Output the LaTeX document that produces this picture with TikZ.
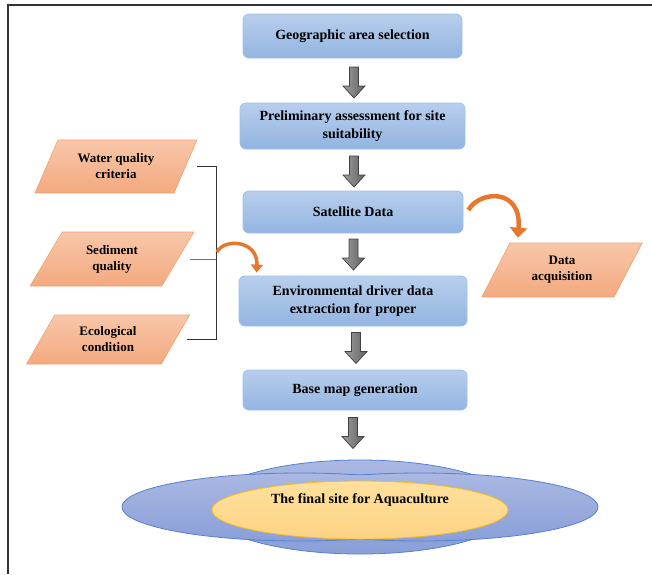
\documentclass[tikz,border=0pt]{standalone}
\usepackage{fontspec}
\setmainfont{Liberation Serif}
\usetikzlibrary{shapes.geometric,shapes.arrows,arrows.meta,calc}
\definecolor{boxtop}{HTML}{B8CEEC}
\definecolor{boxbot}{HTML}{93B5E1}
\definecolor{boxline}{HTML}{9CC0EA}
\definecolor{partop}{HTML}{F8C7A9}
\definecolor{parbot}{HTML}{F3A97F}
\definecolor{parline}{HTML}{F1A171}
\definecolor{orng}{HTML}{E8772E}
\definecolor{blobtop}{HTML}{AAB8E2}
\definecolor{blobbot}{HTML}{8A9FD9}
\definecolor{blobline}{HTML}{5680D2}
\definecolor{yeltop}{HTML}{FFE09C}
\definecolor{yelbot}{HTML}{FDD385}
\definecolor{yelline}{HTML}{F5BD1A}
\begin{document}
\begin{tikzpicture}[x=1pt,y=-1pt,
 stepbox/.style={draw=boxline, line width=0.8pt, rounded corners=6pt, top color=boxtop, bottom color=boxbot, font=\fontsize{14}{18}\selectfont\bfseries, align=center, inner sep=0pt},
 para/.style={trapezium, trapezium left angle=59, trapezium right angle=121, trapezium stretches=true, draw=parline, line width=0.6pt, top color=partop, bottom color=parbot, font=\fontsize{13}{16}\selectfont\bfseries, align=center, inner sep=0pt},
 blockarrowstyle/.style={draw=black!75, left color=black!38, right color=black!62, line width=0.7pt},
 downarr/.pic={\path[blockarrowstyle] (-4.5,-15.5) -- (4.5,-15.5) -- (4.5,3.5) -- (11,3.5) -- (0,15.5) -- (-11,3.5) -- (-4.5,3.5) -- cycle;},
 bracket/.style={draw=black!80, line width=0.7pt},
 curvarrow/.style={draw=orng, line width=4.5pt, -{Triangle[width=17pt,length=10pt]}},
 curvarrowsmall/.style={draw=orng, line width=3.5pt, -{Triangle[width=12pt,length=8pt]}},
]
\useasboundingbox (0,0) rectangle (652,574);
\draw[line width=2pt, draw=black!80] (7.5,574) -- (7.5,4.5) -- (652,4.5);

% main boxes
\node[stepbox, minimum width=219pt, minimum height=44pt] (b1) at (352.5,36) {Geographic area selection};
\node[stepbox, minimum width=225pt, minimum height=46pt] (b2) at (352.5,126) {Preliminary assessment for site\\suitability};
\node[stepbox, minimum width=220pt, minimum height=42pt] (b3) at (353,212) {Satellite Data};
\node[stepbox, minimum width=228pt, minimum height=50pt] (b4) at (353,301) {Environmental driver data\\extraction for proper};
\node[stepbox, minimum width=224pt, minimum height=40pt] (b5) at (355,390) {Base map generation};

% block arrows
\pic (a1) at (354,82.5) {downarr};
\pic (a2) at (354,171.5) {downarr};
\pic (a3) at (353.5,254.5) {downarr};
\pic (a4) at (356,348) {downarr};
\pic (a5) at (353,433) {downarr};

% parallelograms
\node[para, minimum width=162pt, minimum height=53pt] (p1) at (116,166.5) {Water quality\\criteria};
\node[para, minimum width=164pt, minimum height=54pt] (p2) at (112,259) {Sediment\\quality};
\node[para, minimum width=164pt, minimum height=49pt] (p3) at (108,339.5) {Ecological\\condition};
\node[para, minimum width=162pt, minimum height=54pt] (p4) at (562,270) {Data\\acquisition};

% bracket
\coordinate (brk) at (216,0);
\coordinate (p1r) at ([xshift=11pt]p1.east);
\coordinate (p2r) at ([xshift=12pt]p2.east);
\coordinate (p3r) at ([xshift=11pt]p3.east);
\coordinate (jn) at (p2r -| brk);
\draw[bracket] (p1r) -- (p1r -| brk) -- (p3r -| brk) -- (p3r);
\draw[bracket, draw=black!55] (p2r) -- (jn);

% curved arrows
\draw[curvarrow] ([shift={(5pt,2pt)}]b3.east) .. controls (480,190) and (522,188) .. ([shift={(8pt,5pt)}]p4.top left corner);
\draw[curvarrowsmall] ([shift={(1pt,7pt)}]jn) .. controls (224,238) and (258,240) .. ([shift={(18pt,3pt)}]b4.north west);

% final blob
\path[top color=blobtop, bottom color=blobbot, draw=blobline, line width=0.8pt] (360,507) ellipse (155pt and 47pt);
\path[top color=blobtop, bottom color=blobbot] (300,507) ellipse (178pt and 34pt);
\path[top color=blobtop, bottom color=blobbot] (420,507) ellipse (178pt and 34pt);
\begin{scope}[even odd rule]
\clip (100,440) rectangle (620,570) (420,507) ellipse (178pt and 34pt);
\draw[blobline, line width=0.8pt] (300,507) ellipse (178pt and 34pt);
\end{scope}
\begin{scope}[even odd rule]
\clip (100,440) rectangle (620,570) (300,507) ellipse (178pt and 34pt);
\draw[blobline, line width=0.8pt] (420,507) ellipse (178pt and 34pt);
\end{scope}
\node[ellipse, minimum width=296pt, minimum height=58pt, draw=yelline, line width=0.8pt, top color=yeltop, bottom color=yelbot, inner sep=0pt] (fin) at (360,510) {};
\node[font=\fontsize{14}{18}\selectfont\bfseries, inner sep=0pt] (fintext) at (360,500) {The final site for Aquaculture};
\end{tikzpicture}
\end{document}
